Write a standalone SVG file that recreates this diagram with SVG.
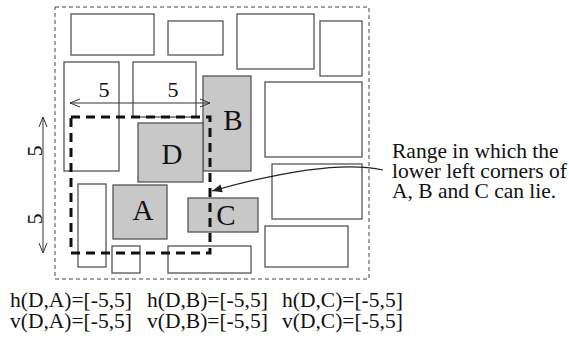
<svg xmlns="http://www.w3.org/2000/svg" width="569" height="343" viewBox="0 0 569 343">
<style>
.b{fill:#fff;stroke:#555;stroke-width:1.3}
.g{fill:#c8c8c8;stroke:#555;stroke-width:1.3}
.t{font-family:"Liberation Serif",serif;fill:#111}
.dim{stroke:#333;stroke-width:1;fill:none}
</style>
<defs>
<marker id="v" viewBox="0 0 10 10" refX="10" refY="5" markerWidth="10" markerHeight="10" markerUnits="userSpaceOnUse" orient="auto">
<path d="M0,1 L10,5 L0,9" fill="none" stroke="#333" stroke-width="1"/>
</marker>
<marker id="f" viewBox="0 0 10 10" refX="10" refY="5" markerWidth="12" markerHeight="10" markerUnits="userSpaceOnUse" orient="auto">
<path d="M0,1 L10,5 L0,9 Z" fill="#222"/>
</marker>
</defs>
<rect x="55" y="7" width="314" height="272" fill="none" stroke="#444" stroke-width="1" stroke-dasharray="4,3"/>
<g id="r1"><rect class="b" x="71" y="14" width="83" height="41"/></g>
<g id="r2"><rect class="b" x="168" y="21" width="55" height="34"/></g>
<g id="r3"><rect class="b" x="237" y="14" width="77" height="55"/></g>
<g id="r4"><rect class="b" x="320" y="21" width="42" height="55"/></g>
<g id="r5"><rect class="b" x="64" y="62" width="55" height="109"/></g>
<g id="r6"><rect class="b" x="133" y="62" width="63" height="55"/></g>
<g id="r9"><rect class="b" x="265" y="82" width="97" height="75"/></g>
<g id="r10"><rect class="b" x="272" y="164" width="90" height="55"/></g>
<g id="r11"><rect class="b" x="265" y="226" width="83" height="41"/></g>
<g id="r14"><rect class="b" x="78" y="184" width="28" height="83"/></g>
<g id="r15"><rect class="b" x="112" y="246" width="28" height="27"/></g>
<g id="r16"><rect class="b" x="168" y="246" width="83" height="27"/></g>
<g id="B"><rect class="g" x="203" y="76" width="48" height="95"/><text class="t" x="233" y="130" font-size="29" text-anchor="middle">B</text></g>
<g id="D"><rect class="g" x="138" y="123" width="65" height="59"/><text class="t" x="172" y="164" font-size="29" text-anchor="middle">D</text></g>
<g id="A"><rect class="g" x="113" y="185" width="54" height="54"/><text class="t" x="143" y="220" font-size="29" text-anchor="middle">A</text></g>
<g id="C"><rect class="g" x="188" y="198" width="70" height="34"/><text class="t" x="226" y="225" font-size="29" text-anchor="middle">C</text></g>
<g id="range"><rect x="71" y="117" width="139" height="136" fill="none" stroke="#111" stroke-width="3" stroke-dasharray="9,6"/></g>
<g id="connectors">
<line class="dim" x1="134" y1="103" x2="70" y2="103" marker-end="url(#v)"/>
<line class="dim" x1="134" y1="103" x2="210" y2="103" marker-end="url(#v)"/>
<line class="dim" x1="43" y1="185" x2="43" y2="117" marker-end="url(#v)"/>
<line class="dim" x1="43" y1="185" x2="43" y2="253" marker-end="url(#v)"/>
<path d="M383,170 Q330,158 212,191" fill="none" stroke="#222" stroke-width="1.2" marker-end="url(#f)"/>
</g>
<g id="labels" class="t">
<text class="t" x="104" y="97" font-size="22" text-anchor="middle">5</text>
<text class="t" x="173" y="97" font-size="22" text-anchor="middle">5</text>
<text class="t" font-size="22" text-anchor="middle" transform="translate(42,151) rotate(-90)">5</text>
<text class="t" font-size="22" text-anchor="middle" transform="translate(42,219) rotate(-90)">5</text>
<text class="t" font-size="21.5"><tspan x="392" y="158">Range in which the</tspan><tspan x="392" y="178">lower left corners of</tspan><tspan x="392" y="198">A, B and C can lie.</tspan></text>
<text class="t" font-size="21.5"><tspan x="10" y="307">h(D,A)=[-5,5]</tspan><tspan x="10" y="328">v(D,A)=[-5,5]</tspan></text>
<text class="t" font-size="21.5"><tspan x="147" y="307">h(D,B)=[-5,5]</tspan><tspan x="147" y="328">v(D,B)=[-5,5]</tspan></text>
<text class="t" font-size="21.5"><tspan x="282" y="307">h(D,C)=[-5,5]</tspan><tspan x="282" y="328">v(D,C)=[-5,5]</tspan></text>
</g>
</svg>
